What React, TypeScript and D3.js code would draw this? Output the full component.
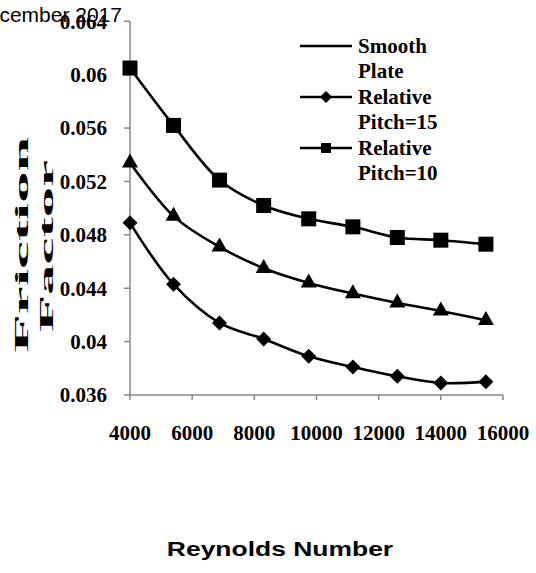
import React from "react";
import * as d3 from "d3";

const reynolds = [4000, 5400, 6880, 8300, 9750, 11170, 12600, 14000, 15450];
const pitch10 = [0.0605, 0.0562, 0.0521, 0.0502, 0.0492, 0.0486, 0.0478, 0.0476, 0.0473];
const smoothPlate = [0.0534, 0.0494, 0.0471, 0.0455, 0.0444, 0.0436, 0.0429, 0.0423, 0.0416];
const pitch15 = [0.0489, 0.0443, 0.0414, 0.0402, 0.0389, 0.0381, 0.0374, 0.0369, 0.037];
const xTicks = [4000, 6000, 8000, 10000, 12000, 14000, 16000];
const yTicks = [0.036, 0.04, 0.044, 0.048, 0.052, 0.056, 0.06, 0.064];
const yTickLabels = ["0.036", "0.04", "0.044", "0.048", "0.052", "0.056", "0.06", "0.064"];
const legendLabels = [["Smooth", "Plate"], ["Relative", "Pitch=15"], ["Relative", "Pitch=10"]];

const W = 536;
const H = 573;
const serif = "Liberation Serif";
const sans = "Liberation Sans";
const axisColor = "#888888";

const serifBold: React.CSSProperties = { fontFamily: serif, fontWeight: 700 };

export default function App() {
  const x = d3.scaleLinear().domain([4000, 16000]).range([130, 503]);
  const y = d3.scaleLinear().domain([0.036, 0.064]).range([395, 21.3]);
  const line = d3
    .line<number>()
    .x((_, i) => x(reynolds[i]))
    .y((d) => y(d))
    .curve(d3.curveCatmullRom.alpha(0.5));

  const square = (cx: number, cy: number, s: number, k: string) => (
    <rect key={k} x={cx - s / 2} y={cy - s / 2} width={s} height={s} fill="#000" />
  );
  const diamond = (cx: number, cy: number, r: number, k: string) => (
    <path key={k} d={`M${cx},${cy - r}L${cx + r},${cy}L${cx},${cy + r}L${cx - r},${cy}Z`} fill="#000" />
  );
  const triangle = (cx: number, cy: number, w: number, h: number, k: string) => (
    <path
      key={k}
      d={`M${cx},${cy - (h * 2) / 3}L${cx + w / 2},${cy + h / 3}L${cx - w / 2},${cy + h / 3}Z`}
      fill="#000"
    />
  );

  const [y0, y1] = y.range();
  const legendY = [46, 97, 148];

  return (
    <svg
      width={W}
      height={H}
      style={{ position: "absolute", left: 0, top: 0, background: "#fff" }}
    >
      <rect x={0} y={0} width={W} height={H} fill="#fff" />
      {/* axes */}
      <line x1={x(4000)} x2={x(16000)} y1={y0} y2={y0} stroke={axisColor} strokeWidth={1.5} />
      <line x1={x(4000)} x2={x(4000)} y1={y0} y2={y1} stroke={axisColor} strokeWidth={1.5} />
      {xTicks.map((t) => (
        <g key={"xt" + t}>
          <line x1={x(t)} x2={x(t)} y1={y0} y2={y0 + 5} stroke={axisColor} strokeWidth={1.5} />
          <text x={x(t)} y={440} textAnchor="middle" style={{ ...serifBold, fontSize: 21 }} fill="#000">
            {t}
          </text>
        </g>
      ))}
      {yTicks.map((t, i) => (
        <g key={"yt" + t}>
          <line x1={x(4000) - 6} x2={x(4000)} y1={y(t)} y2={y(t)} stroke={axisColor} strokeWidth={1.5} />
          <text
            x={107}
            y={y(t)}
            dy="0.35em"
            textAnchor="end"
            style={{ ...serifBold, fontSize: 21 }}
            fill="#000"
          >
            {yTickLabels[i]}
          </text>
        </g>
      ))}

      {/* series */}
      <path d={line(pitch10) || ""} fill="none" stroke="#000" strokeWidth={2.6} />
      <path d={line(smoothPlate) || ""} fill="none" stroke="#000" strokeWidth={2.6} />
      <path d={line(pitch15) || ""} fill="none" stroke="#000" strokeWidth={2.6} />
      {pitch10.map((v, i) => square(x(reynolds[i]), y(v), 15, "s" + i))}
      {smoothPlate.map((v, i) => triangle(x(reynolds[i]), y(v), 16, 14, "t" + i))}
      {pitch15.map((v, i) => diamond(x(reynolds[i]), y(v), 7.5, "d" + i))}

      {/* legend */}
      {legendLabels.map((lbl, i) => (
        <g key={"lg" + i}>
          <line x1={300} x2={352} y1={legendY[i]} y2={legendY[i]} stroke="#000" strokeWidth={2.5} />
          {i === 1 && diamond(326, legendY[i], 6, "ld")}
          {i === 2 && square(326, legendY[i], 10, "ls")}
          {lbl.map((s, j) => (
            <text
              key={j}
              x={358}
              y={legendY[i] + 7 + j * 25}
              style={{ ...serifBold, fontSize: 21 }}
              fill="#000"
            >
              {s}
            </text>
          ))}
        </g>
      ))}

      {/* y axis title */}
      <text
        transform="translate(28,244.5) rotate(-90) scale(3.3,1)"
        textAnchor="middle"
        style={{ ...serifBold, fontSize: 19 }}
        fill="#000"
      >
        Friction
      </text>
      <text
        transform="translate(53,246) rotate(-90) scale(3.2,1)"
        textAnchor="middle"
        style={{ ...serifBold, fontSize: 19 }}
        fill="#000"
      >
        Factor
      </text>

      {/* x axis title */}
      <text
        transform="translate(280,556) scale(1.26,1)"
        textAnchor="middle"
        style={{ fontFamily: sans, fontWeight: 700, fontSize: 21 }}
        fill="#000"
      >
        Reynolds Number
      </text>

      {/* header fragment */}
      <text x={122} y={22} textAnchor="end" style={{ fontFamily: sans, fontSize: 21 }} fill="#000">
        cember 2017
      </text>
    </svg>
  );
}
